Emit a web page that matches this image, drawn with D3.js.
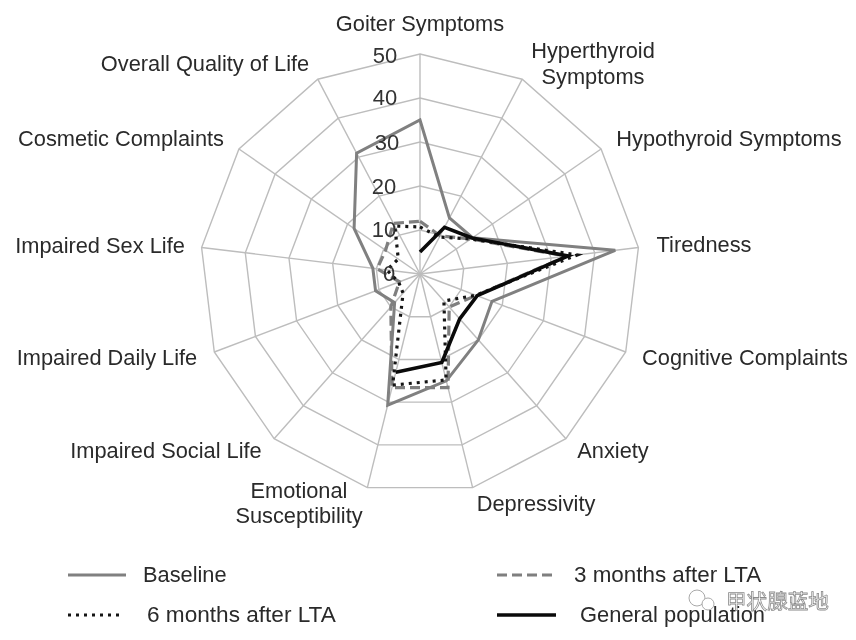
<!DOCTYPE html>
<html><head><meta charset="utf-8">
<script src="https://cdn.jsdelivr.net/npm/d3@7"></script>
<style>
html,body{margin:0;padding:0;background:#fff}
svg{display:block;font-family:"Liberation Sans",Arial,sans-serif;filter:blur(0.45px)}
</style></head><body><svg id="c" width="856" height="640"></svg>
<script>
const categories=["Goiter Symptoms","Hyperthyroid Symptoms","Hypothyroid Symptoms","Tiredness","Cognitive Complaints","Anxiety","Depressivity","Emotional Susceptibility","Impaired Social Life","Impaired Daily Life","Impaired Sex Life","Cosmetic Complaints","Overall Quality of Life"];
const baseline=[35,14.4,14.5,44.7,17.5,20,25,30.7,8.7,10.8,10.8,18.2,31];
const months3=[12,9.8,14,33.6,13.7,10,26.6,26.6,10,5,9.8,9.5,13];
const months6=[10.7,9.5,14,36,13.6,8.2,24.8,26,5.8,5.2,7.6,6,12.3];
const general=[5,12,14.4,33.9,13.9,13.6,20.7,23];
const ticks=[0,10,20,30,40,50];
const seriesNames=["Baseline","3 months after LTA","6 months after LTA","General population"];

const svg=d3.select("#c"),cx=420,cy=274;
const r=d3.scaleLinear().domain([0,50]).range([0,220]);
const a=d3.scaleLinear().domain([0,categories.length]).range([0,2*Math.PI]);
const g=svg.append("g").attr("transform",`translate(${cx},${cy})`);
const radial=d3.lineRadial().angle((d,i)=>a(i)).radius(d=>r(d));
const idx=d3.range(categories.length);
ticks.slice(1).forEach(t=>g.append("path")
  .attr("d",radial.curve(d3.curveLinearClosed)(idx.map(()=>t)))
  .attr("fill","none").attr("stroke","#bdbdbd").attr("stroke-width",1.4));
idx.forEach(i=>g.append("path").attr("d",d3.lineRadial().angle(a(i)).radius(d=>r(d))([0,50]))
  .attr("stroke","#bdbdbd").attr("stroke-width",1.4));
const tickPos=[[389,281],[384,237],[384,194],[387,150],[385,105],[385,63]];
ticks.forEach((t,i)=>svg.append("text").text(t).attr("x",tickPos[i][0]).attr("y",tickPos[i][1])
  .attr("text-anchor","middle").attr("font-size",22).attr("fill","#333"));
const styles=[
 {s:"#808080",w:3,d:null},
 {s:"#7f7f7f",w:3.2,d:"10 5"},
 {s:"#151515",w:3.2,d:"3 5"},
 {s:"#0a0a0a",w:3.6,d:null}];
[[baseline,true],[months3,true],[months6,true],[general,false]].forEach(([v,closed],k)=>{
  const l=d3.lineRadial().angle((d,i)=>a(i)).radius(d=>r(d)).curve(closed?d3.curveLinearClosed:d3.curveLinear);
  g.append("path").attr("d",l(v)).attr("fill","none").attr("stroke",styles[k].s)
   .attr("stroke-width",styles[k].w).attr("stroke-dasharray",styles[k].d).attr("stroke-linejoin","miter");
});
const labelPos=[
 [[420,31]],
 [[593,58],[593,84]],
 [[729,146]],
 [[704,252]],
 [[745,365]],
 [[613,458]],
 [[536,511]],
 [[299,498],[299,523]],
 [[166,458]],
 [[107,365]],
 [[100,253]],
 [[121,146]],
 [[205,71]]];
const labelLines=[["Goiter Symptoms"],["Hyperthyroid","Symptoms"],["Hypothyroid Symptoms"],["Tiredness"],["Cognitive Complaints"],["Anxiety"],["Depressivity"],["Emotional","Susceptibility"],["Impaired Social Life"],["Impaired Daily Life"],["Impaired Sex Life"],["Cosmetic Complaints"],["Overall Quality of Life"]];
labelLines.forEach((ls,i)=>ls.forEach((t,j)=>svg.append("text").text(t)
  .attr("x",labelPos[i][j][0]).attr("y",labelPos[i][j][1]).attr("text-anchor","middle")
  .attr("font-size",21.8).attr("fill","#2a2a2a")));
const legendPos=[[68,126,143,582],[497,556,574,582],[68,124,147,622],[497,556,580,622]];
const legendSize=[21.8,22.4,22.6,21.9];
[0,1,2,3].forEach(k=>{const [x1,x2,tx,y]=legendPos[k];
  svg.append("line").attr("x1",x1).attr("x2",x2).attr("y1",y-7).attr("y2",y-7)
   .attr("stroke",styles[k].s).attr("stroke-width",styles[k].w).attr("stroke-dasharray",styles[k].d);
  svg.append("text").text(seriesNames[k]).attr("x",tx).attr("y",y).attr("font-size",legendSize[k]).attr("fill","#2a2a2a");
});
// watermark
const wm=svg.append("g").attr("opacity",0.85);
wm.append("circle").attr("cx",697).attr("cy",598).attr("r",8).attr("fill","#fff").attr("stroke","#999");
wm.append("circle").attr("cx",708).attr("cy",604).attr("r",6).attr("fill","#fff").attr("stroke","#999");
wm.append("text").text("甲状腺蓝地").attr("x",726).attr("y",609).attr("font-size",20.6)
  .attr("font-family","Noto Sans CJK SC").attr("fill","#fff").attr("stroke","#777").attr("stroke-width",0.8);
</script></body></html>
